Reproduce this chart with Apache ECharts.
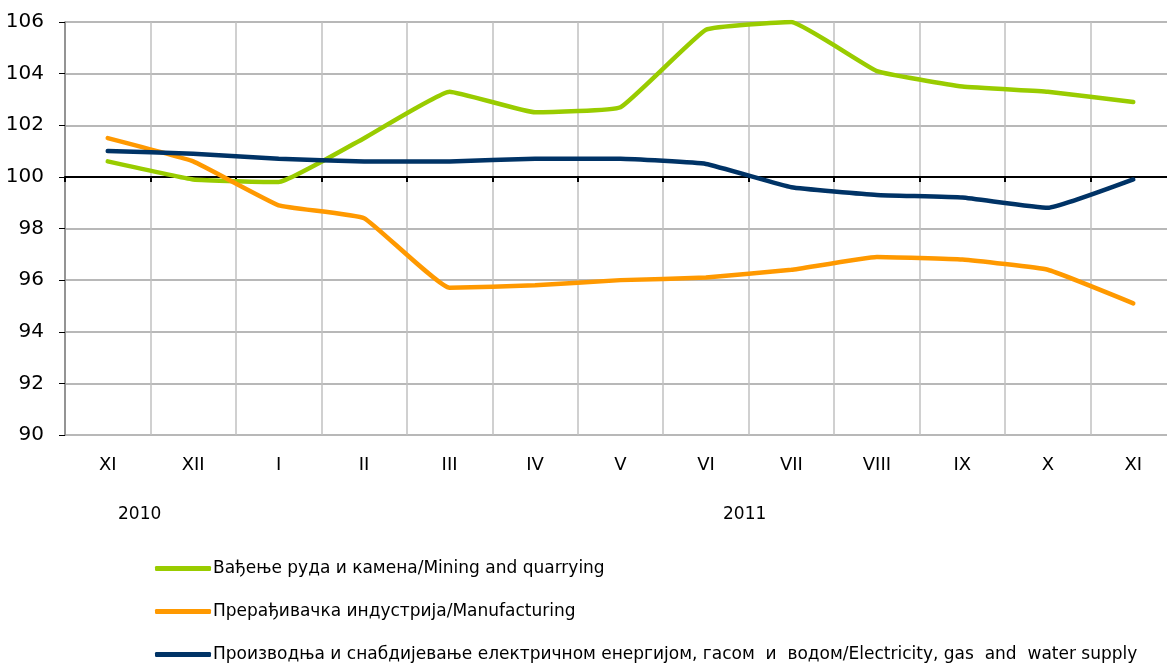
<!DOCTYPE html>
<html>
<head>
<meta charset="utf-8">
<script src="https://cdn.jsdelivr.net/npm/echarts@6/dist/echarts.min.js"></script>
<style>
  html, body { margin: 0; padding: 0; background: #fff; overflow: hidden; }
  /* drawn a bit larger than the window: the original plot runs past the right edge */
  #chart { width: 1180px; height: 690px; }
</style>
</head>
<body>
<div id="chart"></div>
<script>
var months = ['XI', 'XII', 'I', 'II', 'III', 'IV', 'V', 'VI', 'VII', 'VIII', 'IX', 'X', 'XI']
var mining = [100.6, 99.9, 99.8, 101.5, 103.3, 102.5, 102.7, 105.7, 106.0, 104.1, 103.5, 103.3, 102.9]
var manufacturing = [101.5, 100.6, 98.9, 98.4, 95.7, 95.8, 96.0, 96.1, 96.4, 96.9, 96.8, 96.4, 95.1]
var electricity = [101.0, 100.9, 100.7, 100.6, 100.6, 100.7, 100.7, 100.5, 99.6, 99.3, 99.2, 98.8, 99.9]
var names = [
  'Вађење руда и камена/Mining and quarrying',
  'Прерађивачка индустрија/Manufacturing',
  'Производња и снабдијевање електричном енергијом, гасом  и  водом/Electricity, gas  and  water supply'
]
var years = ['2010', '2011']

var font = 'DejaVu Sans'
var myChart = echarts.init(document.getElementById('chart'))

function lineSeries(name, data, color) {
  return {
    name: name,
    type: 'line',
    data: data,
    smooth: 0.1,
    symbol: 'none',
    lineStyle: { color: color, width: 4.5, cap: 'round' },
    itemStyle: { color: color },
    z: 3
  }
}

myChart.setOption({
  animation: false,
  textStyle: { fontFamily: font },
  grid: { left: 65, top: 22, height: 413, width: 1111 },
  xAxis: [
    {
      type: 'category',
      data: months,
      boundaryGap: true,
      axisLine: { show: false },
      axisTick: { show: false },
      axisLabel: { color: '#000', fontSize: 18, margin: 21, fontFamily: font },
      splitLine: { show: true, interval: 0, lineStyle: { color: '#c0c0c0', width: 1.5 } }
    },
    {
      // crossing axis drawn at 100
      type: 'category',
      data: months,
      position: 'bottom',
      offset: -258,
      boundaryGap: true,
      axisLine: { show: true, lineStyle: { color: '#000', width: 2 } },
      axisTick: { show: true, length: 5, interval: 0, lineStyle: { color: '#000', width: 2 } },
      axisLabel: { show: false },
      splitLine: { show: false }
    }
  ],
  yAxis: {
    type: 'value',
    min: 90,
    max: 106,
    interval: 2,
    axisLine: { show: true, lineStyle: { color: '#808080', width: 1.5 } },
    axisTick: { show: true, length: 6, lineStyle: { color: '#000' } },
    axisLabel: { color: '#000', fontSize: 20, margin: 21, fontFamily: font },
    splitLine: { lineStyle: { color: '#a0a0a0', width: 1.5 } }
  },
  legend: {
    orient: 'vertical',
    left: 150,
    top: 555,
    itemGap: 26,
    itemWidth: 56,
    itemHeight: 5,
    icon: 'roundRect',
    textStyle: { color: '#000', fontSize: 17, fontFamily: font, padding: [0, 0, 0, -3] },
    data: names
  },
  graphic: [
    { type: 'text', left: 118, top: 506, style: { text: years[0], fill: '#000', font: '17px ' + font } },
    { type: 'text', left: 723, top: 506, style: { text: years[1], fill: '#000', font: '17px ' + font } }
  ],
  series: [
    lineSeries(names[0], mining, '#99cc00'),
    lineSeries(names[1], manufacturing, '#ff9900'),
    lineSeries(names[2], electricity, '#003366')
  ]
})
</script>
</body>
</html>
